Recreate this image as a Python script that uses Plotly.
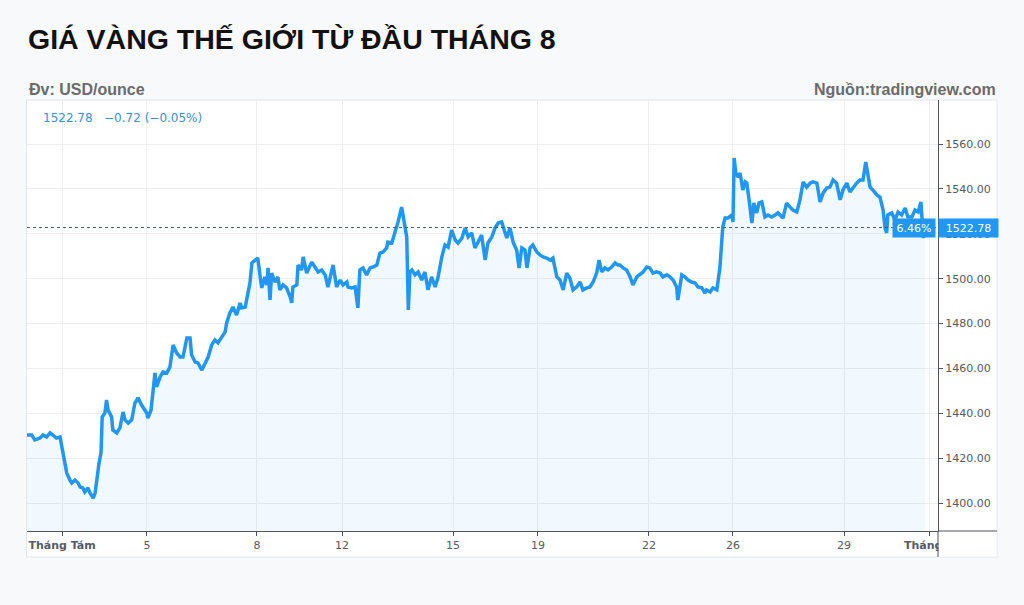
import plotly.graph_objects as go

# ---- data ----
t_days = [
    -0.90, -0.77, -0.69, -0.56, -0.48, -0.39, -0.30, -0.23, -0.14, -0.05,
    -0.01, 0.03, 0.08, 0.12, 0.20, 0.25, 0.33, 0.41, 0.46, 0.53,
    0.58, 0.66, 0.71, 0.79, 0.84, 0.88, 0.94, 0.99, 1.02, 1.09,
    1.13, 1.17, 1.26, 1.29, 1.39, 1.47, 1.55, 1.60, 1.68, 1.77,
    1.85, 1.93, 2.02, 2.15, 2.18, 2.26, 2.36, 2.40, 2.49, 2.56,
    2.66, 2.74, 2.82, 2.91, 3.00, 3.07, 3.17, 3.25, 3.29, 3.38,
    3.45, 3.55, 3.63, 3.71, 3.80, 3.88, 3.96, 4.05, 4.14, 4.18,
    4.26, 4.34, 4.43, 4.52, 4.56, 4.65, 4.72, 4.77, 4.82, 4.90,
    4.97, 5.03, 5.07, 5.15, 5.20, 5.23, 5.28, 5.32, 5.41, 5.48,
    5.53, 5.61, 5.70, 5.79, 5.83, 5.86, 5.96, 5.99, 6.08, 6.12,
    6.21, 6.34, 6.42, 6.50, 6.59, 6.68, 6.75, 6.85, 6.88, 6.97,
    7.06, 7.13, 7.23, 7.26, 7.35, 7.44, 7.48, 7.51, 7.56, 7.64,
    7.73, 7.82, 7.89, 7.99, 8.07, 8.15, 8.24, 8.27, 8.37, 8.45,
    8.53, 8.62, 8.68, 8.75, 8.79, 8.83, 8.88, 8.96, 9.04, 9.13,
    9.21, 9.29, 9.38, 9.47, 9.54, 9.64, 9.72, 9.80, 9.89, 9.98,
    10.05, 10.15, 10.23, 10.31, 10.40, 10.48, 10.56, 10.65, 10.74, 10.81,
    10.91, 10.99, 11.07, 11.16, 11.24, 11.29, 11.37, 11.45, 11.54, 11.60,
    11.67, 11.75, 11.80, 11.88, 11.95, 12.05, 12.13, 12.21, 12.30, 12.39,
    12.46, 12.56, 12.64, 12.72, 12.81, 12.89, 12.97, 13.06, 13.15, 13.22,
    13.32, 13.40, 13.48, 13.57, 13.63, 13.70, 13.78, 13.86, 13.95, 14.04,
    14.11, 14.16, 14.24, 14.33, 14.42, 14.49, 14.59, 14.67, 14.75, 14.84,
    14.92, 15.00, 15.09, 15.18, 15.25, 15.35, 15.43, 15.51, 15.60, 15.63,
    15.73, 15.81, 15.89, 15.98, 16.07, 16.14, 16.24, 16.32, 16.36, 16.45,
    16.52, 16.62, 16.65, 16.70, 16.77, 16.83, 16.90, 17.00, 17.03, 17.06,
    17.10, 17.16, 17.21, 17.25, 17.28, 17.34, 17.38, 17.44, 17.51, 17.56,
    17.63, 17.69, 17.76, 17.79, 17.84, 17.92, 18.01, 18.10, 18.17, 18.30,
    18.39, 18.48, 18.55, 18.65, 18.73, 18.81, 18.90, 18.99, 19.06, 19.16,
    19.24, 19.32, 19.41, 19.49, 19.57, 19.66, 19.75, 19.82, 19.92, 20.00,
    20.08, 20.17, 20.25, 20.33, 20.40, 20.46, 20.51, 20.58, 20.68, 20.76,
    20.84, 20.89, 20.93, 20.96, 21.06, 21.14, 21.22, 21.31, 21.40, 21.47,
    21.57, 21.65, 21.73, 21.80, 21.86, 21.90,
]

price = [
    1430.4, 1430.4, 1428.2, 1429.0, 1430.4, 1429.5, 1431.3, 1430.4, 1429.0, 1429.5,
    1425.9, 1422.4, 1416.1, 1413.5, 1410.3, 1409.0, 1410.3, 1409.0, 1407.2, 1406.8,
    1405.0, 1406.8, 1404.5, 1402.3, 1404.5, 1410.3, 1417.9, 1422.4, 1438.4, 1440.2,
    1446.0, 1441.5, 1438.4, 1432.6, 1431.3, 1433.5, 1440.6, 1437.1, 1435.7, 1437.1,
    1444.6, 1446.9, 1443.7, 1440.2, 1437.9, 1441.5, 1458.0, 1451.8, 1456.2, 1458.4,
    1458.0, 1460.7, 1470.5, 1466.9, 1465.1, 1465.1, 1473.6, 1473.6, 1466.0, 1462.9,
    1462.5, 1459.3, 1462.5, 1465.1, 1470.5, 1472.7, 1471.4, 1474.0, 1476.3, 1480.3,
    1484.7, 1487.4, 1483.8, 1489.2, 1487.0, 1487.4, 1494.1, 1498.1, 1507.0, 1508.3,
    1509.2, 1500.8, 1495.9, 1500.8, 1497.2, 1504.8, 1490.5, 1502.5, 1498.5, 1500.8,
    1495.0, 1497.2, 1495.9, 1491.9, 1489.2, 1496.3, 1497.2, 1506.1, 1503.9, 1509.7,
    1502.5, 1507.4, 1505.2, 1503.0, 1503.9, 1501.7, 1496.3, 1503.9, 1506.1, 1496.3,
    1499.4, 1497.2, 1498.5, 1496.3, 1495.9, 1496.3, 1491.9, 1487.0, 1503.9, 1504.8,
    1501.7, 1504.8, 1505.2, 1506.1, 1511.4, 1511.9, 1513.7, 1516.3, 1515.9, 1520.4,
    1525.3, 1531.9, 1526.1, 1518.6, 1486.1, 1503.0, 1503.9, 1501.7, 1503.0, 1499.4,
    1503.0, 1495.0, 1500.8, 1496.3, 1500.3, 1509.7, 1515.0, 1514.1, 1521.7, 1517.2,
    1515.9, 1518.1, 1522.6, 1518.6, 1520.4, 1513.7, 1516.3, 1519.5, 1508.3, 1515.9,
    1518.6, 1522.6, 1524.8, 1525.3, 1520.8, 1518.1, 1522.6, 1516.3, 1512.8, 1504.8,
    1513.7, 1512.8, 1504.8, 1513.7, 1515.0, 1511.9, 1510.6, 1509.7, 1509.2, 1508.3,
    1509.2, 1500.8, 1499.4, 1495.0, 1502.5, 1500.3, 1495.0, 1496.3, 1498.5, 1495.0,
    1495.9, 1496.3, 1498.5, 1502.5, 1508.3, 1503.0, 1504.8, 1503.9, 1505.2, 1507.0,
    1506.1, 1506.1, 1504.8, 1503.9, 1500.8, 1497.2, 1500.8, 1501.7, 1503.0, 1505.2,
    1504.8, 1502.5, 1503.0, 1502.5, 1500.8, 1501.7, 1500.8, 1499.4, 1496.3, 1490.5,
    1501.7, 1500.8, 1499.4, 1498.5, 1498.1, 1496.3, 1495.9, 1493.6, 1495.0, 1494.1,
    1495.9, 1495.0, 1499.4, 1505.2, 1523.0, 1527.0, 1527.0, 1528.4, 1525.3, 1553.8,
    1547.1, 1545.3, 1547.1, 1543.1, 1539.5, 1543.1, 1542.6, 1535.1, 1524.8, 1533.7,
    1529.3, 1533.7, 1534.2, 1531.9, 1527.5, 1528.4, 1527.5, 1528.4, 1529.3, 1527.0,
    1533.7, 1531.9, 1530.6, 1529.7, 1535.1, 1543.1, 1540.8, 1542.6, 1543.1, 1542.6,
    1534.2, 1538.2, 1540.4, 1540.8, 1544.0, 1542.6, 1535.1, 1539.5, 1542.6, 1538.6,
    1540.8, 1542.6, 1544.0, 1544.0, 1552.0, 1545.3, 1540.8, 1539.5, 1537.3, 1536.4,
    1530.6, 1522.6, 1520.4, 1528.4, 1529.3, 1526.1, 1529.7, 1528.4, 1531.5, 1527.5,
    1527.5, 1530.6, 1529.7, 1534.2, 1518.1, 1522.78,
]

tick_days = [0, 2.157, 4.949, 7.107, 9.924, 12.081, 14.898, 17.030, 19.848, 22.005]
tick_labels = ["<b>Tháng Tám</b>", "5", "8", "12", "15", "19", "22", "26", "29", "<b>Tháng 9</b>"]
price_ticks = [1400, 1420, 1440, 1460, 1480, 1500, 1520, 1540, 1560]
last_price = 1522.78
change = -0.72
change_pct = -0.05
period_pct = 6.46

title_text = "GIÁ VÀNG THẾ GIỚI TỪ ĐẦU THÁNG 8"
unit_text = "Đv: USD/ounce"
source_text = "Nguồn:tradingview.com"

# ---- layout geometry ----
W, H = 1024, 605
L, R, T, B = 27, 86, 100, 74
PW, PH = W - L - R, H - T - B


def px(x):
    return (x - L) / PW


def py(y):
    return (H - B - y) / PH


BLUE = "#2196f3"
AXIS = "#50535e"
GRID = "#eceef2"
TXT = "#555a66"

fig = go.Figure()
fig.add_trace(go.Scatter(
    x=t_days, y=price, mode="lines",
    line=dict(color=BLUE, width=3.5),
    fill="tozeroy", fillcolor="rgba(33,150,243,0.06)",
    hoverinfo="skip", showlegend=False,
))

fig.update_layout(
    width=W, height=H,
    margin=dict(l=L, r=R, t=T, b=B, pad=0),
    paper_bgcolor="#f8f9fb",
    plot_bgcolor="white",
    showlegend=False,
    xaxis=dict(
        range=[(L - 62) / 39.4, (W - R - 62) / 39.4],
        tickmode="array", tickvals=tick_days, ticktext=tick_labels,
        showgrid=True, gridcolor=GRID, gridwidth=1,
        showline=True, linecolor=AXIS, linewidth=1,
        ticks="outside", ticklen=4, tickcolor=AXIS,
        tickfont=dict(family="DejaVu Sans", size=11, color=TXT),
        zeroline=False, fixedrange=True,
    ),
    yaxis=dict(
        side="right",
        range=[1387.6, 1579.6],
        tickmode="array", tickvals=price_ticks,
        ticktext=[f"{v:.2f}" for v in price_ticks],
        showgrid=True, gridcolor=GRID, gridwidth=1,
        showline=True, linecolor=AXIS, linewidth=1,
        ticks="outside", ticklen=4, tickcolor=AXIS,
        tickfont=dict(family="DejaVu Sans", size=11, color=TXT),
        zeroline=False, fixedrange=True,
    ),
)

shapes = [
    # white chart panel
    dict(type="rect", xref="paper", yref="paper", layer="below",
         x0=px(26.5), x1=px(997), y0=py(557), y1=py(100),
         fillcolor="white", line=dict(color="#e3e6eb", width=1)),
    # mask the clipped last tick label under the price scale
    dict(type="rect", xref="paper", yref="paper", layer="above",
         x0=px(938.6), x1=px(996.5), y0=py(556.5), y1=py(532),
         fillcolor="white", line=dict(width=0)),
    # axis extensions
    dict(type="line", xref="paper", yref="paper", layer="above",
         x0=px(938), x1=px(997), y0=0, y1=0, line=dict(color=AXIS, width=1)),
    dict(type="line", xref="paper", yref="paper", layer="above",
         x0=1, x1=1, y0=py(557), y1=0, line=dict(color=AXIS, width=1)),
    # last price dotted line
    dict(type="line", xref="paper", yref="y", layer="above",
         x0=0, x1=1, y0=last_price, y1=last_price,
         line=dict(color="#4a5a5a", width=1, dash="dot")),
]
fig.update_layout(shapes=shapes)

ann = [
    dict(text=f"<b>{title_text}</b>", xref="paper", yref="paper",
         x=px(26), y=py(39), xanchor="left", yanchor="middle", showarrow=False,
         font=dict(family="Liberation Sans, Arial", size=28.5, color="#111111")),
    dict(text=f"<b>{unit_text}</b>", xref="paper", yref="paper",
         x=px(27), y=py(90), xanchor="left", yanchor="middle", showarrow=False,
         font=dict(family="Liberation Sans, Arial", size=16, color="#6b6b6b")),
    dict(text=f"<b>{source_text}</b>", xref="paper", yref="paper",
         x=px(998), y=py(90), xanchor="right", yanchor="middle", showarrow=False,
         font=dict(family="Liberation Sans, Arial", size=16, color="#6b6b6b")),
    dict(text=f"{last_price:.2f}   \u2212{abs(change):.2f} (\u2212{abs(change_pct):.2f}%)",
         xref="paper", yref="paper",
         x=px(41), y=py(118), xanchor="left", yanchor="middle", showarrow=False,
         font=dict(family="DejaVu Sans", size=12, color="#3d8fd1")),
    dict(text=f"{last_price:.2f}", xref="paper", yref="y",
         x=1, y=last_price, xanchor="left", yanchor="middle", showarrow=False,
         bgcolor=BLUE, borderpad=2, width=55, height=14, align="center",
         font=dict(family="DejaVu Sans", size=11, color="white")),
    dict(text=f"{period_pct:.2f}%", xref="paper", yref="y",
         x=px(936), y=last_price, xanchor="right", yanchor="middle", showarrow=False,
         bgcolor=BLUE, borderpad=2, width=38, height=14, align="center",
         font=dict(family="DejaVu Sans", size=11, color="white")),
]
fig.update_layout(annotations=ann)

fig.write_html(
    "out.html",
    config={"displayModeBar": False},
    post_script="document.body.style.margin='0';document.body.style.background='#f8f9fb';",
)
